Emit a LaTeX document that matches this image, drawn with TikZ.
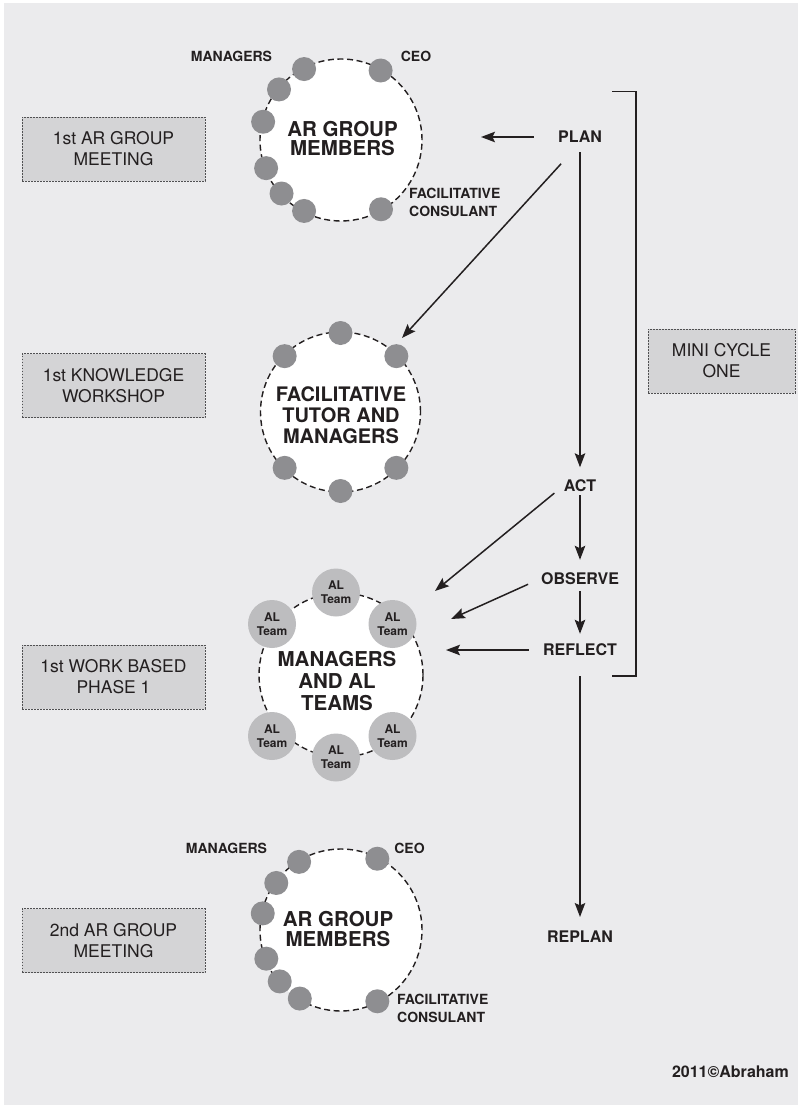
\documentclass[tikz,border=0pt]{standalone}
\usepackage{fontspec}
\setmainfont{TeX Gyre Heros}
\usetikzlibrary{arrows.meta}

\definecolor{paper}{HTML}{EBEBED}
\definecolor{boxfill}{HTML}{D4D4D6}
\definecolor{boxline}{HTML}{505052}
\definecolor{ink}{HTML}{231F20}
\definecolor{member}{HTML}{8E8E91}
\definecolor{teamdot}{HTML}{BDBDBF}

\begin{document}
\begin{tikzpicture}[x=1pt,y=-1pt,
  arr/.style={draw=ink, line width=1.5pt, -{Stealth[length=14pt,width=10.5pt,inset=2.5pt]}},
  ring/.style={circle, draw=ink, fill=white, line width=1.4pt, dash pattern=on 6pt off 3.6pt, inner sep=0pt},
  stagebox/.style={rectangle, fill=boxfill, draw=boxline, line width=0.8pt, dash pattern=on 1.8pt off 1.2pt,
    minimum width=183pt, minimum height=64pt, inner sep=0pt, align=center, text=ink,
    font=\fontsize{17.5}{21}\selectfont},
  steplbl/.style={inner sep=0pt, text=ink, font=\bfseries\fontsize{16}{19}\selectfont},
  rolelbl/.style={inner sep=0pt, text=ink, font=\bfseries\fontsize{14}{17.5}\selectfont},
  core/.style={inner sep=0pt, text=ink, align=center},
  alteam/.style={circle, fill=teamdot, minimum size=48pt, inner sep=0pt, align=center, text=ink,
    font=\bfseries\fontsize{12}{14}\selectfont},
]
% page and paper
\useasboundingbox (0,0) rectangle (802,1108);
\fill[white] (0,0) rectangle (802,1108);
\fill[paper] (4,3) rectangle (798,1105);

% ---- stage boxes ----
\node[stagebox] (s1) at (113.5,149)   {1st AR GROUP\\MEETING};
\node[stagebox] (s2) at (113.5,385.5) {1st KNOWLEDGE\\WORKSHOP};
\node[stagebox] (s3) at (113.5,677)   {1st WORK BASED\\PHASE 1};
\node[stagebox] (s4) at (113.5,940.5) {2nd AR GROUP\\MEETING};
\node[stagebox, minimum width=147pt] (mini) at (721.5,361) {MINI CYCLE\\ONE};

% ---- AR group meeting (first) ----
\node[ring, minimum size=162pt] (c1) at (341,140) {};
\foreach \a in {60.3,117.5,140.8,166.8,200.6,222,242.5,300}
  \fill[member] (c1.center) ++(\a:80pt) circle[radius=12];
\node[core, font=\bfseries\fontsize{20.5}{18.5}\selectfont] (c1text) at (342.5,138.5) {AR GROUP\\MEMBERS};
\node[rolelbl] (mgr1) at (231.5,56) {MANAGERS};
\node[rolelbl] (ceo1) at (416,56) {CEO};
\node[rolelbl, anchor=west, align=left] (fac1) at (409,202.5) {FACILITATIVE\\CONSULANT};

% ---- knowledge workshop ----
\node[ring, minimum size=160pt] (c2) at (340.5,412) {};
\foreach \a in {45,90,135,225,270,315}
  \fill[member] (c2.center) ++(\a:79pt) circle[radius=12];
\node[core, font=\bfseries\fontsize{20}{21}\selectfont] (c2text) at (341,415) {FACILITATIVE\\TUTOR AND\\MANAGERS};

% ---- work based phase ----
\node[ring, minimum size=164pt] (c3) at (341,675) {};
\node[alteam] (t1) at (336,592.5) {AL\\Team};
\node[alteam] (t2) at (272,624)   {AL\\Team};
\node[alteam] (t3) at (392.5,624) {AL\\Team};
\node[alteam] (t4) at (272,736)   {AL\\Team};
\node[alteam] (t5) at (336,757.5) {AL\\Team};
\node[alteam] (t6) at (392.5,736) {AL\\Team};
\node[core, font=\bfseries\fontsize{20.5}{22}\selectfont] (c3text) at (337,681) {MANAGERS\\AND AL\\TEAMS};

% ---- AR group meeting (second) ----
\node[ring, minimum size=162pt] (c4) at (341,930) {};
\foreach \a in {63,121.6,144,168,201,220,239,297}
  \fill[member] (c4.center) ++(\a:80pt) circle[radius=12];
\node[core, font=\bfseries\fontsize{20.5}{20}\selectfont] (c4text) at (338,929.5) {AR GROUP\\MEMBERS};
\node[rolelbl] (mgr4) at (226.5,848) {MANAGERS};
\node[rolelbl] (ceo4) at (409.5,848) {CEO};
\node[rolelbl, anchor=west, align=left] (fac4) at (397,1008.5) {FACILITATIVE\\CONSULANT};

% ---- cycle steps ----
\node[steplbl] (plan)    at (580,137)   {PLAN};
\node[steplbl] (act)     at (580,485.5) {ACT};
\node[steplbl] (observe) at (580,578.5) {OBSERVE};
\node[steplbl] (reflect) at (580,650)   {REFLECT};
\node[steplbl] (replan)  at (580,937)   {REPLAN};

% arrow heads landing beside the groups
\coordinate (inC1) at (481,137);
\coordinate (inC2) at (402,338);
\coordinate (inC3a) at (435,591);
\coordinate (inC3b) at (451,619);
\coordinate (inC3c) at (446,650);

% main sequence
\draw[arr, shorten <=9pt,  shorten >=12pt] (plan.south) -- (act.north);
\draw[arr, shorten <=3.5pt, shorten >=12.5pt] (act.south) -- (observe.north);
\draw[arr, shorten <=6.5pt, shorten >=10pt] (observe.south) -- (reflect.north);
\draw[arr, shorten <=20pt, shorten >=14pt] (reflect.south) -- (replan.north);

% links out to the groups
\draw[arr, shorten <=24pt] (plan.west) -- (inC1);
\draw[arr, shorten <=28pt] (plan.south) -- (inC2);
\draw[arr, shorten <=12pt] (act.west) -- (inC3a);
\draw[arr, shorten <=14pt] (observe.west) -- (inC3b);
\draw[arr, shorten <=14pt] (reflect.west) -- (inC3c);

% bracket grouping the mini cycle
\draw[ink, line width=1.4pt] (612,91.5) -- (636,91.5) -- (636,676) -- (612,676);

% credit
\node[inner sep=0pt, anchor=east, text=ink, font=\bfseries\fontsize{16}{19}\selectfont] (credit) at (789,1072) {2011©Abraham};
\end{tikzpicture}
\end{document}
